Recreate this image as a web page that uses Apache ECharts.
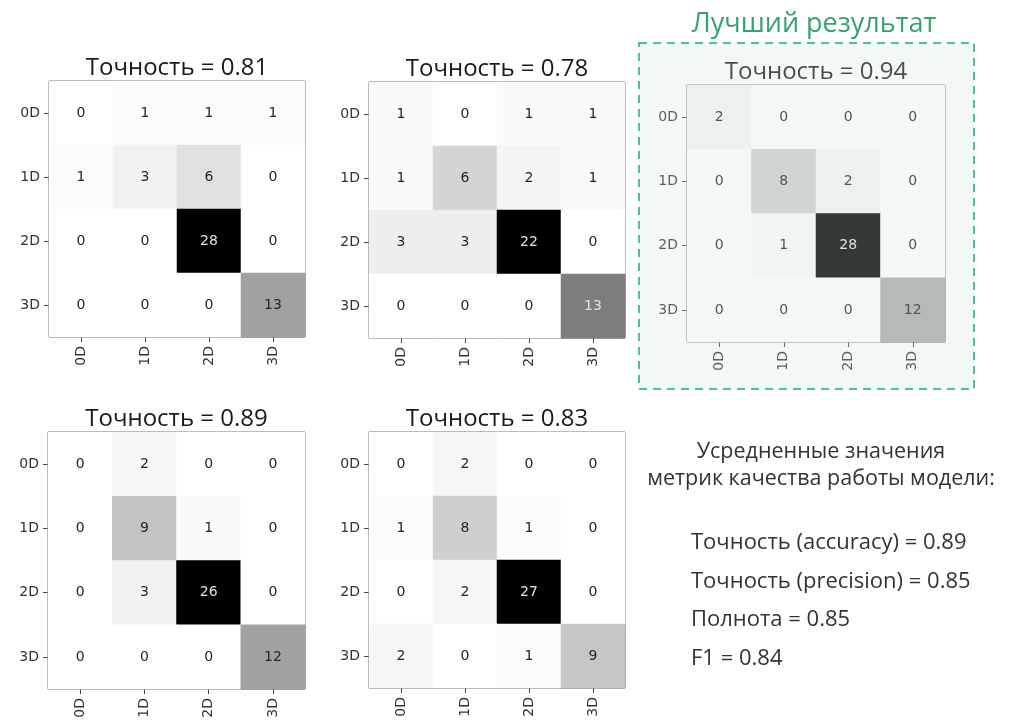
<!DOCTYPE html>
<html>
<head>
<meta charset="utf-8">
<script src="https://cdn.jsdelivr.net/npm/echarts@6/dist/echarts.min.js"></script>
<style>
  html, body { margin: 0; padding: 0; background: #ffffff; }
  #chart { width: 1010px; height: 723px; }
</style>
</head>
<body>
<div id="chart"></div>
<script>
// Class labels shared by both axes of every confusion matrix
const classes = ['0D', '1D', '2D', '3D'];

// Confusion matrices (rows = true class, columns = predicted class)
const cmRun1 = [[0, 1, 1, 1], [1, 3, 6, 0], [0, 0, 28, 0], [0, 0, 0, 13]];
const cmRun2 = [[1, 0, 1, 1], [1, 6, 2, 1], [3, 3, 22, 0], [0, 0, 0, 13]];
const cmRun3 = [[2, 0, 0, 0], [0, 8, 2, 0], [0, 1, 28, 0], [0, 0, 0, 12]];
const cmRun4 = [[0, 2, 0, 0], [0, 9, 1, 0], [0, 3, 26, 0], [0, 0, 0, 12]];
const cmRun5 = [[0, 2, 0, 0], [1, 8, 1, 0], [0, 2, 27, 0], [2, 0, 1, 9]];

// Accuracy of each run, shown above its matrix
const runAccuracy = [0.81, 0.78, 0.94, 0.89, 0.83];

// Index of the best run (highlighted)
const bestRun = 2;
const bestCaption = 'Лучший результат';

// Averaged quality metrics
const summaryHeading = ['Усредненные значения', 'метрик качества работы модели:'];
const metricNames = ['Точность (accuracy)', 'Точность (precision)', 'Полнота', 'F1'];
const metricValues = [0.89, 0.85, 0.85, 0.84];

const matrices = [cmRun1, cmRun2, cmRun3, cmRun4, cmRun5];

// Panel placement (pixels)
const panels = [
  { left: 49, top: 81, width: 256, height: 256 },
  { left: 369, top: 82, width: 256, height: 256 },
  { left: 687, top: 85, width: 258, height: 257 },
  { left: 48, top: 432, width: 257, height: 257 },
  { left: 369, top: 432, width: 256, height: 256 }
];

// matplotlib "Greys" colormap stops
const greys = ['#ffffff', '#f0f0f0', '#d9d9d9', '#bdbdbd', '#969696', '#737373', '#525252', '#252525', '#000000'];

const tickFont = 'DejaVu Sans';
const textFont = '"Open Sans", "Noto Sans", sans-serif';

const grids = [], xAxes = [], yAxes = [], series = [], visualMaps = [], graphics = [];

matrices.forEach((m, k) => {
  const flat = m.flat();
  const vmax = Math.max(...flat);
  const vmin = Math.min(...flat);
  const thresh = (vmax + vmin) / 2;
  const p = panels[k];

  grids.push({
    left: p.left, top: p.top, width: p.width, height: p.height,
    show: true, borderColor: '#4d4d4d', borderWidth: 1, backgroundColor: 'transparent'
  });
  xAxes.push({
    type: 'category', gridIndex: k, data: classes, position: 'bottom',
    axisLine: { show: false },
    axisTick: { show: true, alignWithLabel: true, length: 5, lineStyle: { color: '#444' } },
    axisLabel: { rotate: 90, margin: 9, fontFamily: tickFont, fontSize: 14, color: '#333' },
    splitLine: { show: false }
  });
  yAxes.push({
    type: 'category', gridIndex: k, data: classes, inverse: true,
    axisLine: { show: false },
    axisTick: { show: true, alignWithLabel: true, length: 5, lineStyle: { color: '#444' } },
    axisLabel: { margin: 9, fontFamily: tickFont, fontSize: 14, color: '#333' },
    splitLine: { show: false }
  });

  const data = [];
  m.forEach((row, r) => row.forEach((v, c) => {
    data.push({
      value: [c, r, v],
      label: { color: v < thresh ? '#262626' : '#e0e0e0' }
    });
  }));
  series.push({
    type: 'heatmap', xAxisIndex: k, yAxisIndex: k, data: data,
    itemStyle: { borderWidth: 0 },
    label: {
      show: true, fontFamily: tickFont, fontSize: 14,
      formatter: (prm) => String(prm.value[2])
    },
    emphasis: { disabled: true }
  });
  visualMaps.push({
    type: 'continuous', show: false, seriesIndex: k, dimension: 2,
    min: vmin, max: vmax, inRange: { color: greys }
  });

  graphics.push({
    type: 'text', x: p.left + p.width / 2, y: p.top - 13,
    style: {
      text: 'Точность = ' + runAccuracy[k].toFixed(2),
      font: '24px ' + textFont, fill: '#1a1a1a',
      align: 'center', verticalAlign: 'middle'
    }
  });
});

// Highlight frame around the best run
const bp = panels[bestRun];
const frame = { x: 639, y: 43, width: 335, height: 346 };
graphics.push({
  type: 'rect', z: 100, silent: true,
  shape: frame,
  style: { fill: 'rgba(204,232,212,0.25)', stroke: null }
});
graphics.push({
  type: 'rect', z: 101, silent: true,
  shape: frame,
  style: { fill: null, stroke: '#4fbf98', lineWidth: 2, lineDash: [8, 6] }
});
graphics.push({
  type: 'text', x: bp.left + bp.width / 2 - 2, y: 24,
  style: {
    text: bestCaption, font: '27px ' + textFont, fill: '#35a46c',
    align: 'center', verticalAlign: 'middle'
  }
});

// Summary block of averaged metrics
summaryHeading.forEach((line, i) => {
  graphics.push({
    type: 'text', x: 821, y: 452 + i * 27,
    style: { text: line, font: '21.5px ' + textFont, fill: '#333333', align: 'center', verticalAlign: 'middle' }
  });
});
metricNames.forEach((name, i) => {
  graphics.push({
    type: 'text', x: 691, y: 543 + i * 38.5,
    style: {
      text: name + ' = ' + metricValues[i].toFixed(2),
      font: '22px ' + textFont, fill: '#333333', align: 'left', verticalAlign: 'middle'
    }
  });
});

const chart = echarts.init(document.getElementById('chart'), null, { renderer: 'canvas' });
chart.setOption({
  animation: false,
  backgroundColor: '#ffffff',
  grid: grids,
  xAxis: xAxes,
  yAxis: yAxes,
  visualMap: visualMaps,
  series: series,
  graphic: graphics
});
</script>
</body>
</html>
